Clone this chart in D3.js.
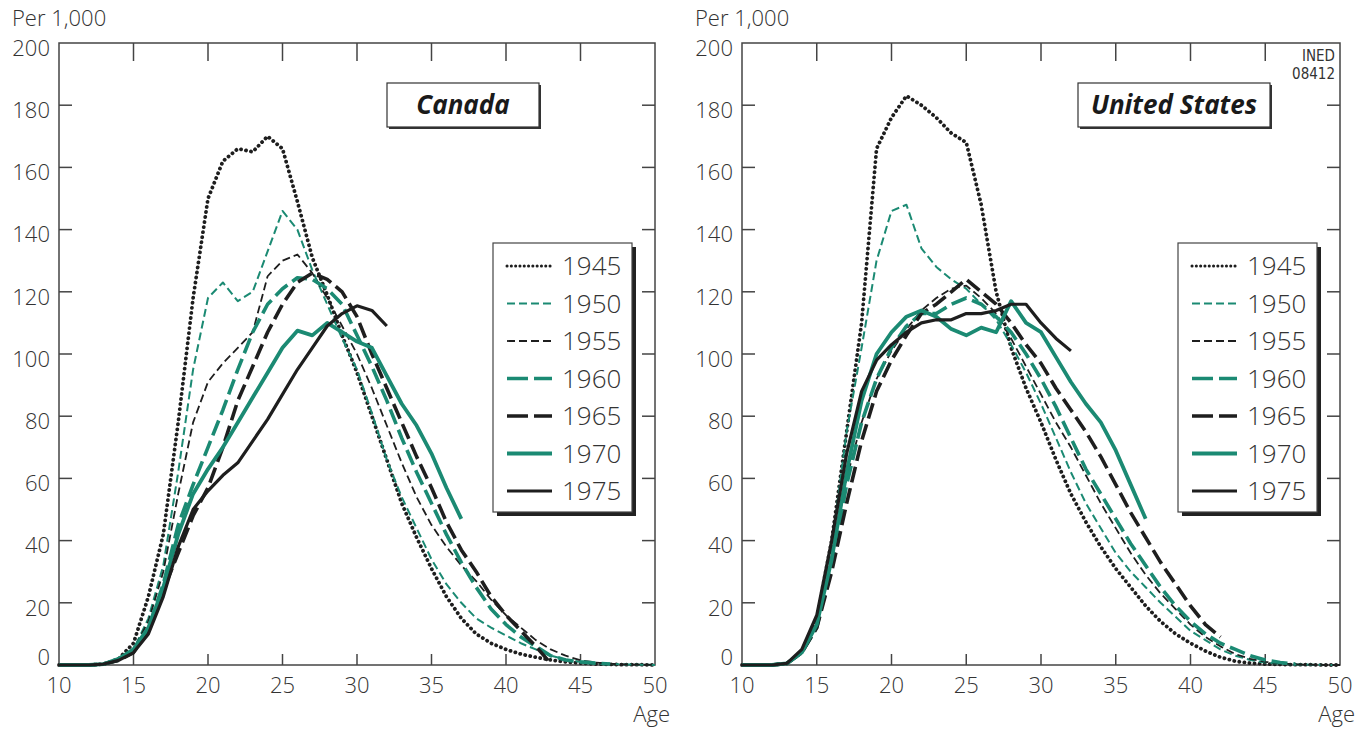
<!DOCTYPE html>
<html>
<head>
<meta charset="utf-8">
<script src="https://cdn.jsdelivr.net/npm/d3@7/dist/d3.min.js"></script>
<style>
  html, body { margin: 0; padding: 0; background: #fff; }
  svg text { font-family: "Open Sans", "Noto Sans", sans-serif; font-weight: 300; fill: #333; }
</style>
</head>
<body>
<svg id="chart" width="1370" height="730"></svg>
<script>
/* Fertility by age, cohorts 1945-1975 — Canada / United States */

const AGES = [10, 11, 12, 13, 14, 15, 16, 17, 18, 19, 20, 21, 22, 23, 24, 25, 26, 27, 28, 29, 30,
  31, 32, 33, 34, 35, 36, 37, 38, 39, 40, 41, 42, 43, 44, 45, 46, 47, 48, 49, 50];
const COHORTS = ['1945', '1950', '1955', '1960', '1965', '1970', '1975'];
const X_TICKS = [10, 15, 20, 25, 30, 35, 40, 45, 50];
const Y_TICKS = [0, 20, 40, 60, 80, 100, 120, 140, 160, 180, 200];

// values per 1,000, from age 10 onward (series stop where the cohort was last observed)
const CA_1945 = [0, 0, 0, 0.3, 2, 7, 22, 42, 78, 118, 150, 162, 166, 165, 170, 166, 149, 131, 119, 106, 94,
  80, 66, 52, 41, 31, 22, 15, 10, 7, 5, 3.5, 2.5, 1.6, 1, 0.6, 0.3, 0.2, 0.1, 0.1, 0];
const CA_1950 = [0, 0, 0, 0.3, 1.5, 5, 15, 32, 62, 95, 118, 123, 117, 120, 133, 146, 140, 127, 116, 105, 95,
  81, 66, 54, 44, 34, 26, 20, 15, 12, 9.5, 7, 5, 3, 1.8, 1, 0.5, 0.3, 0.2, 0.1, 0];
const CA_1955 = [0, 0, 0, 0.3, 1.5, 5, 14, 30, 55, 78, 91, 97, 102, 107, 125, 130, 132, 126, 118, 109, 100,
  89, 77, 65, 54, 45, 38, 32, 27, 21, 16, 12, 8, 5, 3, 1.5, 0.8, 0.4, 0.2, 0.1, 0];
const CA_1960 = [0, 0, 0, 0.3, 1.5, 5, 12, 26, 45, 58, 70, 82, 95, 107, 116, 121, 124.5, 124, 121, 116, 106,
  96, 85, 73, 62, 52, 42, 33, 25, 18, 13, 9, 6, 3, 1.6, 1, 0.6, 0.3];
const CA_1965 = [0, 0, 0, 0.3, 1.5, 4, 11, 24, 36, 48, 57, 70, 85, 96, 107, 116, 123, 126, 124, 120, 112,
  100, 89, 78, 67, 57, 46, 37, 30, 22, 16, 11, 6, 0.5];
const CA_1970 = [0, 0, 0, 0.3, 2, 5, 12, 25, 42, 55, 63, 70, 78, 86, 94, 102, 107.5, 106, 110, 107, 104,
  102, 93, 84, 77, 68, 57, 47];
const CA_1975 = [0, 0, 0, 0.3, 1.5, 4, 10, 22, 38, 50, 56, 61, 65, 72, 79, 87, 95, 102, 109, 113, 115.5,
  114, 109];

const US_1945 = [0, 0, 0, 0.5, 4, 15, 40, 75, 110, 166, 176, 183, 180, 176, 171, 168, 148, 120, 102, 89, 78,
  66, 55, 46, 38, 31, 25, 19, 14, 10, 7, 4.5, 2.5, 1.2, 0.6, 0.3, 0.2, 0.1, 0.1, 0, 0];
const US_1950 = [0, 0, 0, 0.5, 4, 14, 38, 75, 102, 130, 146, 148, 134, 128, 124, 121, 116, 111, 103, 94, 84,
  73, 62, 52, 44, 36, 30, 25, 20, 15.5, 11, 8, 5, 3, 1.6, 0.8, 0.4, 0.2, 0.1, 0, 0];
const US_1955 = [0, 0, 0, 0.5, 4, 13, 35, 60, 78, 92, 101, 108, 114, 118, 121, 122, 118, 113, 105, 96, 87,
  78, 70, 61, 52, 44, 36, 29, 23, 18, 13, 9, 6, 3.5, 2, 1, 0.5, 0.2, 0.1, 0, 0];
const US_1960 = [0, 0, 0, 0.5, 4, 12, 32, 58, 78, 92, 102, 109, 113, 113, 116, 118, 116, 112, 107, 100, 92,
  83, 73, 63, 55, 47, 39, 32, 25, 19, 14, 10, 7, 5, 3, 1.6, 0.8, 0.3];
const US_1965 = [0, 0, 0, 0.5, 4, 12, 30, 52, 72, 88, 98, 106, 113, 116, 120, 124, 120, 116, 110, 103, 97,
  89, 82, 75, 67, 58, 49, 41, 33, 26, 19, 13, 9];
const US_1970 = [0, 0, 0, 0.5, 4, 13, 34, 62, 85, 100, 107, 112, 114, 112, 108, 106, 108.5, 107, 117, 110, 107,
  99, 91, 84, 78, 69, 58, 47];
const US_1975 = [0, 0, 0, 0.5, 5, 16, 40, 68, 88, 98, 103, 107, 110, 111, 111, 113, 113, 114, 116, 116, 110,
  105, 101];

const CANADA = [CA_1945, CA_1950, CA_1955, CA_1960, CA_1965, CA_1970, CA_1975];
const USA = [US_1945, US_1950, US_1955, US_1960, US_1965, US_1970, US_1975];

/* ── Styles ────────────────────────────────────────────────────────── */

const TEAL = '#1b8a73';
const INK = '#1e1e1e';

const LINE_STYLES = [
  { color: INK,  width: 3.8, dash: '0.1 5',  cap: 'round' },  // 1945 dotted
  { color: TEAL, width: 2,   dash: '8 4',    cap: 'butt' },   // 1950
  { color: INK,  width: 1.8, dash: '8 4',    cap: 'butt' },   // 1955
  { color: TEAL, width: 3.6, dash: '16 6',   cap: 'butt' },   // 1960
  { color: INK,  width: 3.6, dash: '16 6',   cap: 'butt' },   // 1965
  { color: TEAL, width: 3.8, dash: null,     cap: 'butt' },   // 1970
  { color: INK,  width: 3.2, dash: null,     cap: 'butt' },   // 1975
];

/* ── Drawing ───────────────────────────────────────────────────────── */

const svg = d3.select('#chart');
const plotTop = 43, plotBottom = 665;

const y = d3.scaleLinear().domain([0, 200]).range([plotBottom, plotTop]);

function drawPanel(left, right, series, title, titleBox, showIned) {
  const x = d3.scaleLinear().domain([10, 50]).range([left, right]);
  const g = svg.append('g');

  // frame
  g.append('rect')
    .attr('x', left).attr('y', plotTop)
    .attr('width', right - left).attr('height', plotBottom - plotTop)
    .attr('fill', 'none').attr('stroke', '#444').attr('stroke-width', 1.5);

  // ticks on all four sides, pointing inward
  const tickLen = 13;
  g.append('g').selectAll('line').data(Y_TICKS.slice(1, -1)).join('line')
    .attr('x1', left).attr('x2', left + tickLen)
    .attr('y1', d => y(d)).attr('y2', d => y(d))
    .attr('stroke', '#444').attr('stroke-width', 1.5);
  g.append('g').selectAll('line').data(Y_TICKS.slice(1, -1)).join('line')
    .attr('x1', right).attr('x2', right - tickLen)
    .attr('y1', d => y(d)).attr('y2', d => y(d))
    .attr('stroke', '#444').attr('stroke-width', 1.5);
  g.append('g').selectAll('line').data(X_TICKS.slice(1, -1)).join('line')
    .attr('x1', d => x(d)).attr('x2', d => x(d))
    .attr('y1', plotBottom).attr('y2', plotBottom - 11)
    .attr('stroke', '#444').attr('stroke-width', 1.5);
  g.append('g').selectAll('line').data(X_TICKS.slice(1, -1)).join('line')
    .attr('x1', d => x(d)).attr('x2', d => x(d))
    .attr('y1', plotTop).attr('y2', plotTop + 18)
    .attr('stroke', '#444').attr('stroke-width', 1.5);

  // tick labels
  g.append('g').selectAll('text').data(Y_TICKS).join('text')
    .attr('x', left - 9)
    .attr('y', d => d === 0 ? y(d) - 8 : y(d) + 5)
    .attr('dy', '0.35em')
    .attr('text-anchor', 'end')
    .attr('font-size', 22)
    .text(d => d);
  g.append('g').selectAll('text').data(X_TICKS).join('text')
    .attr('x', d => x(d))
    .attr('y', 693)
    .attr('text-anchor', 'middle')
    .attr('font-size', 22)
    .text(d => d);

  g.append('text').attr('x', left - 47).attr('y', 26).attr('font-size', 22).text('Per 1,000');
  g.append('text').attr('x', right + 15).attr('y', 722).attr('text-anchor', 'end')
    .attr('font-size', 22).text('Age');

  // curves
  const line = d3.line()
    .x((d, i) => x(AGES[i]))
    .y(d => y(d));

  g.append('g').selectAll('path').data(series).join('path')
    .attr('d', d => line(d))
    .attr('fill', 'none')
    .attr('stroke', (d, i) => LINE_STYLES[i].color)
    .attr('stroke-width', (d, i) => LINE_STYLES[i].width)
    .attr('stroke-dasharray', (d, i) => LINE_STYLES[i].dash)
    .attr('stroke-linecap', (d, i) => LINE_STYLES[i].cap)
    .attr('stroke-linejoin', 'round');

  // title box
  const tb = titleBox;
  g.append('rect').attr('x', tb.x + 2).attr('y', tb.y + 2)
    .attr('width', tb.w).attr('height', tb.h).attr('fill', '#333');
  g.append('rect').attr('x', tb.x).attr('y', tb.y)
    .attr('width', tb.w).attr('height', tb.h)
    .attr('fill', '#fff').attr('stroke', '#333').attr('stroke-width', 1.2);
  g.append('text')
    .attr('x', tb.x + tb.w / 2).attr('y', tb.y + tb.h / 2)
    .attr('dy', '0.36em')
    .attr('text-anchor', 'middle')
    .attr('font-size', 26).attr('font-style', 'italic')
    .style('font-weight', 700)
    .style('fill', '#1a1a1a')
    .text(title);

  // legend
  const lw = 139, lh = 269;
  const lx = right - 23 - lw, ly = 243;
  g.append('rect').attr('x', lx + 4).attr('y', ly + 4)
    .attr('width', lw).attr('height', lh).attr('fill', '#222');
  g.append('rect').attr('x', lx).attr('y', ly)
    .attr('width', lw).attr('height', lh)
    .attr('fill', '#fff').attr('stroke', '#444').attr('stroke-width', 1.2);
  const item = g.append('g').selectAll('g').data(COHORTS).join('g')
    .attr('transform', (d, i) => `translate(${lx}, ${ly + 23 + i * 37.5})`);
  item.append('line')
    .attr('x1', 14).attr('x2', 59).attr('y1', 0).attr('y2', 0)
    .attr('stroke', (d, i) => LINE_STYLES[i].color)
    .attr('stroke-width', (d, i) => i === 0 ? 3 : LINE_STYLES[i].width)
    .attr('stroke-dasharray', (d, i) => i === 0 ? '0.1 4.2' : (i === 3 || i === 4 ? '21 6 11 0' : LINE_STYLES[i].dash))
    .attr('stroke-linecap', (d, i) => LINE_STYLES[i].cap);
  item.append('text')
    .attr('x', 69).attr('y', 0).attr('dy', '0.36em')
    .attr('font-size', 26)
    .text(d => d);

  if (showIned) {
    g.append('text').attr('x', right - 5).attr('y', 61).attr('text-anchor', 'end')
      .attr('font-size', 15).style('font-family', '"Liberation Sans Narrow", "DejaVu Sans Condensed", sans-serif')
      .text('INED');
    g.append('text').attr('x', right - 5).attr('y', 79).attr('text-anchor', 'end')
      .attr('font-size', 15).style('font-family', '"Liberation Sans Narrow", "DejaVu Sans Condensed", sans-serif')
      .text('08412');
  }
}

drawPanel(59, 655, CANADA, 'Canada', { x: 387, y: 83, w: 152, h: 44 }, false);
drawPanel(742, 1340, USA, 'United States', { x: 1078, y: 83, w: 192, h: 44 }, true);
</script>
</body>
</html>
